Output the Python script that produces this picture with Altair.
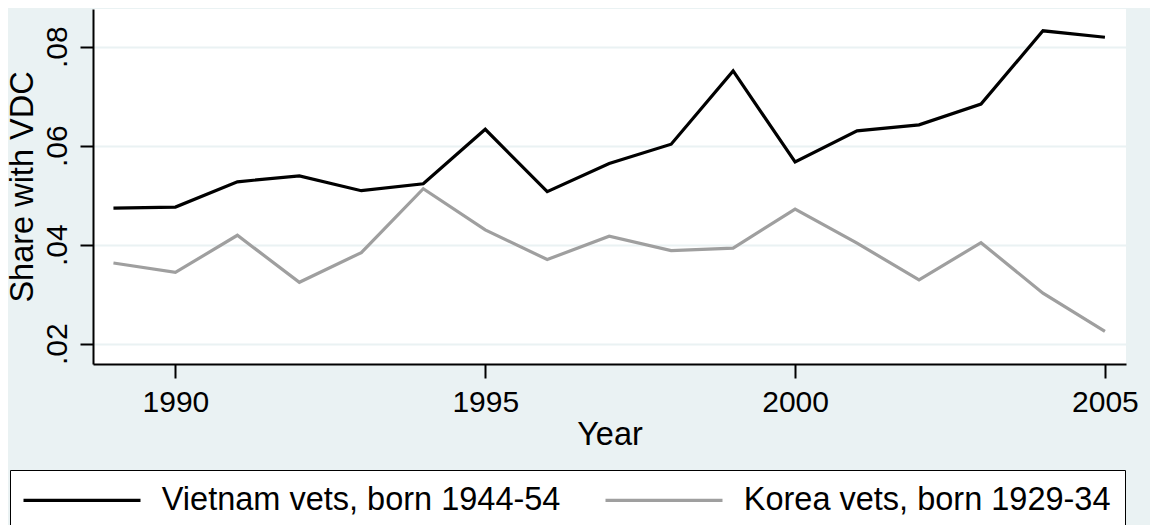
import altair as alt
import pandas as pd

years = list(range(1989, 2006))
vietnam = [0.0474, 0.0476, 0.0527, 0.0539, 0.0509, 0.0523, 0.0633, 0.0507, 0.0564,
           0.0603, 0.0751, 0.0567, 0.0630, 0.0642, 0.0684, 0.0832, 0.0819]
korea = [0.0363, 0.0344, 0.0419, 0.0324, 0.0384, 0.0513, 0.0430, 0.0370, 0.0417,
         0.0388, 0.0393, 0.0472, 0.0403, 0.0329, 0.0404, 0.0302, 0.0225]
series_names = ["Vietnam vets, born 1944-54", "Korea vets, born 1929-34"]
series_colors = ["#000000", "#9f9f9f"]
x_ticks = [1990, 1995, 2000, 2005]
y_ticks = [0.02, 0.04, 0.06, 0.08]

rows = []
for name, vals in zip(series_names, [vietnam, korea]):
    for yr, v in zip(years, vals):
        rows.append({"Year": yr, "Share": v, "Series": name})
df = pd.DataFrame(rows)

BG = "#eaf2f3"
FONT = "Liberation Sans"

chart = alt.Chart(df).mark_line(strokeWidth=3.2).encode(
    x=alt.X("Year:Q",
            scale=alt.Scale(domain=[1988.67, 2005.34], nice=False, zero=False),
            axis=alt.Axis(values=x_ticks, format="d", grid=False,
                          tickSize=14, tickWidth=2, tickColor="black",
                          domainColor="black", domainWidth=2,
                          labelFont=FONT, labelFontSize=30, labelColor="black",
                          labelBaseline="alphabetic", labelPadding=33,
                          title="Year", titleFont=FONT, titleFontSize=32.5,
                          titleFontWeight="normal", titleColor="black",
                          titleAlign="center", titleBaseline="alphabetic",
                          titleX=516.5, titleY=80)),
    y=alt.Y("Share:Q",
            scale=alt.Scale(domain=[0.0159, 0.0876], nice=False, zero=False),
            axis=alt.Axis(values=y_ticks,
                          labelExpr="substring(format(datum.value, '.2f'), 1)",
                          grid=True, gridColor=BG, gridWidth=2,
                          tickSize=13, tickWidth=2, tickColor="black",
                          domainColor="black", domainWidth=2,
                          labelFont=FONT, labelFontSize=30, labelColor="black",
                          labelAngle=270, labelAlign="center",
                          labelBaseline="alphabetic", labelPadding=14,
                          title="Share with VDC", titleFont=FONT, titleFontSize=32.5,
                          titleFontWeight="normal", titleColor="black",
                          titleAngle=270, titleAlign="center",
                          titleBaseline="alphabetic", titleX=-61, titleY=177.5)),
    color=alt.Color("Series:N",
                    scale=alt.Scale(domain=series_names, range=series_colors),
                    legend=alt.Legend(title=None, orient="none", direction="horizontal",
                                      legendX=-83, legendY=461,
                                      symbolType="M-6,0H6", symbolSize=380.25,
                                      symbolStrokeWidth=3.2, symbolOffset=41.75,
                                      labelFont=FONT, labelFontSize=32.5,
                                      labelColor="black", labelLimit=800,
                                      labelOffset=63.5, columnPadding=38,
                                      padding=14, fillColor="white",
                                      strokeColor="black")),
).properties(
    width=1033,
    height=355,
    autosize=alt.AutoSizeParams(type="none"),
    padding={"left": 85, "top": 1, "right": 24, "bottom": 200},
).configure(
    background=BG,
).configure_view(
    fill="white",
    stroke=None,
)

chart.save("out.html", embed_options={"renderer": "svg", "actions": False})
